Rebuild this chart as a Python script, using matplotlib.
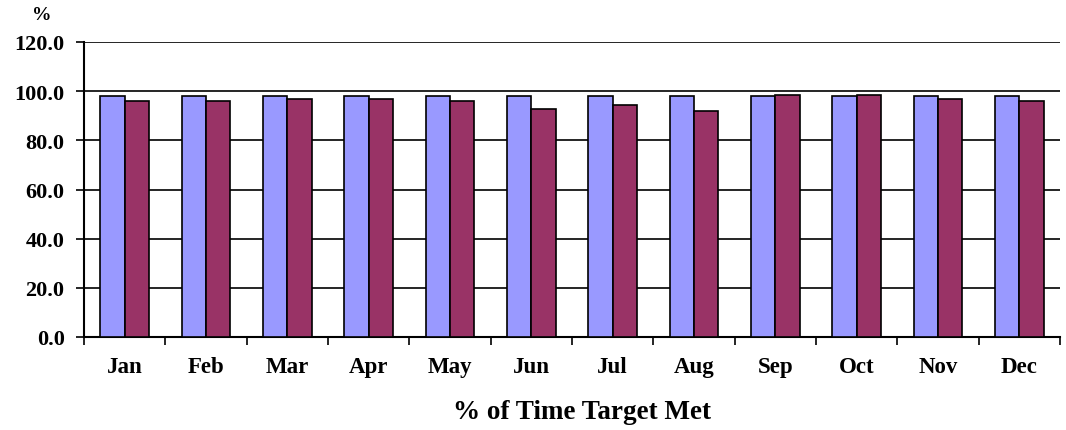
import matplotlib
matplotlib.use("Agg")
import matplotlib.pyplot as plt
import numpy as np

months = ["Jan", "Feb", "Mar", "Apr", "May", "Jun", "Jul", "Aug", "Sep", "Oct", "Nov", "Dec"]
target = [98, 98, 98, 98, 98, 98, 98, 98, 98, 98, 98, 98]
actual = [96.1, 96.1, 96.8, 96.8, 96.1, 92.8, 94.5, 92.1, 98.6, 98.6, 96.8, 96.1]
yticks = [0, 20, 40, 60, 80, 100, 120]

plt.rcParams['font.family'] = ['Liberation Serif', 'DejaVu Serif']
plt.rcParams['font.weight'] = 'bold'

fig = plt.figure(figsize=(10.66, 4.31), dpi=100)
ax = fig.add_axes([84/1066, 1 - 338/431, (1060-84)/1066, (338-43)/431])

x = np.arange(len(months))
w = 0.3
ax.bar(x - w/2, target, w, color="#9999FF", edgecolor="black", linewidth=1.2, zorder=3)
ax.bar(x + w/2, actual, w, color="#993366", edgecolor="black", linewidth=1.2, zorder=3)

ax.set_xlim(-0.5, len(months) - 0.5)
ax.set_ylim(0, 120)
ax.set_yticks(yticks)
ax.set_yticklabels([f"{v:.1f}" for v in yticks], fontsize=16, fontweight='bold')
ax.yaxis.grid(True, color="black", linewidth=1.2, zorder=0)
ax.set_axisbelow(True)

ax.set_xticks(np.arange(-0.5, len(months), 1))
ax.set_xticklabels([])
ax.set_xticks(x, minor=True)
ax.set_xticklabels(months, minor=True, fontsize=16.5, fontweight='bold')
ax.tick_params(axis='x', which='major', length=6, width=1.2, direction='out')
ax.tick_params(axis='x', which='minor', length=0, pad=14)
ax.tick_params(axis='y', length=6, width=1.2, direction='out', pad=8)

for s in ['top', 'right']:
    ax.spines[s].set_visible(False)
ax.spines['left'].set_linewidth(1.5)
ax.spines['bottom'].set_linewidth(1.5)

fig.text(42/1066, 1 - 15/431, "%", fontsize=14, fontweight='bold', ha='center', va='center')
fig.text(582/1066, 1 - 413/431, "% of Time Target Met", fontsize=19.5, fontweight='bold', ha='center', va='center')

fig.savefig("out.png", dpi=100)
